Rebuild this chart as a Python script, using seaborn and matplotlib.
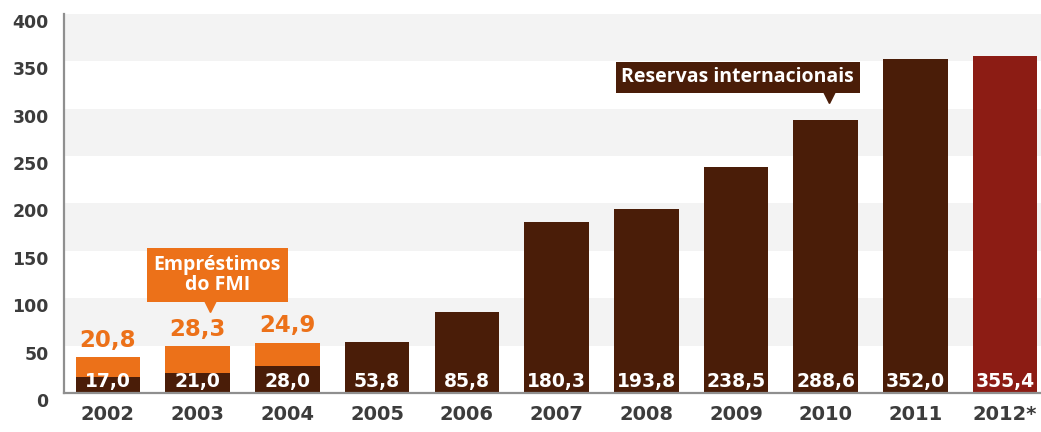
import matplotlib
matplotlib.use("Agg")
import matplotlib.pyplot as plt
import matplotlib.transforms as mtransforms
import seaborn as sns
import pandas as pd

# Reservas internacionais (US$ bilhões) e empréstimos do FMI
years = ["2002", "2003", "2004", "2005", "2006", "2007", "2008", "2009", "2010", "2011", "2012*"]
reserves = [17.0, 21.0, 28.0, 53.8, 85.8, 180.3, 193.8, 238.5, 288.6, 352.0, 355.4]
imf_loans = [20.8, 28.3, 24.9, 0, 0, 0, 0, 0, 0, 0, 0]
y_ticks = [0, 50, 100, 150, 200, 250, 300, 350, 400]

ORANGE = "#ec7119"
BROWN = "#4a1d08"
RED = "#8c1c14"
TEXT = "#3c3c3c"
AXIS = "#8f8f8f"
BAND = "#f3f3f3"
NUM_FONT = ["DejaVu Sans"]

df = pd.DataFrame({"ano": years, "reservas": reserves, "fmi": imf_loans})
df["total"] = df["reservas"] + df["fmi"]
bar_colors = {y: (RED if y.endswith("*") else BROWN) for y in years}

sns.set_theme(style="white")
plt.rcParams["font.family"] = ["Open Sans", "DejaVu Sans"]

fig = plt.figure(figsize=(10.41, 4.32), dpi=100)
ax = fig.add_axes([0.0615, 0.0903, 0.9385, 0.8773])

# alternating light bands
for lo in (50, 150, 250, 350):
    ax.axhspan(lo, lo + 50, color=BAND, zorder=0, lw=0)

# stacked: total (orange) underneath, reserves drawn on top
sns.barplot(data=df, x="ano", y="total", color=ORANGE, saturation=1,
            width=0.72, ax=ax, zorder=2, order=years, linewidth=0)
sns.barplot(data=df, x="ano", y="reservas", hue="ano", palette=bar_colors,
            saturation=1, width=0.72, ax=ax, zorder=3, legend=False,
            order=years, hue_order=years, linewidth=0)

# values inside bars
for i, v in enumerate(reserves):
    ax.text(i, 6.5, f"{v:.1f}".replace(".", ","), ha="center", va="baseline",
            color="white", fontsize=13.5, fontweight="bold", family=NUM_FONT,
            zorder=5)

# IMF loan values above the stacks
for i, (r, f) in enumerate(zip(reserves, imf_loans)):
    if f > 0:
        ax.annotate(f"{f:.1f}".replace(".", ","), (i, r + f), xytext=(0, 4),
                    textcoords="offset points", ha="center", va="bottom",
                    color=ORANGE, fontsize=16.5, fontweight="bold",
                    family=NUM_FONT, zorder=5)

# callout boxes
ax.text(1.22, 124.5, "Empréstimos\ndo FMI", ha="center", va="center",
        color="white", fontsize=14, fontweight="bold", linespacing=1.0,
        zorder=6, bbox=dict(boxstyle="square,pad=0.35", fc=ORANGE, ec="none"))
ax.plot([1.14], [93], marker="v", ms=10, color=ORANGE, zorder=6, clip_on=False)

ax.text(7.02, 333, "Reservas internacionais", ha="center", va="center",
        color="white", fontsize=14, fontweight="bold", zorder=6,
        bbox=dict(boxstyle="square,pad=0.3", fc=BROWN, ec="none"))
ax.plot([8.04], [312], marker="v", ms=9, color=BROWN, zorder=6, clip_on=False)

# axes
ax.set_xlim(-0.49, 10.4)
ax.set_ylim(0, 400)
ax.set_yticks(y_ticks)
ax.set_xlabel("")
ax.set_ylabel("")
for side in ("top", "right"):
    ax.spines[side].set_visible(False)
for side in ("left", "bottom"):
    ax.spines[side].set_color(AXIS)
    ax.spines[side].set_linewidth(1.6)
    ax.spines[side].set_zorder(4)

ax.tick_params(axis="y", direction="in", length=19, width=1.6, color=AXIS,
               pad=11, labelsize=12.5, labelcolor=TEXT)
ax.tick_params(axis="x", length=0, pad=9, labelsize=14, labelcolor=TEXT)
ax.set_xticks([i + 0.5 for i in range(len(years) - 1)], minor=True)
ax.tick_params(axis="x", which="minor", direction="in", length=5, width=1.4, color=AXIS)
for lab in ax.get_yticklabels() + ax.get_xticklabels():
    lab.set_fontweight("bold")
    lab.set_family(NUM_FONT)
offset = mtransforms.ScaledTranslation(0, -7 / 100, fig.dpi_scale_trans)
for lab in ax.get_yticklabels():
    lab.set_transform(lab.get_transform() + offset)

fig.savefig("out.png", dpi=100, facecolor="white")
